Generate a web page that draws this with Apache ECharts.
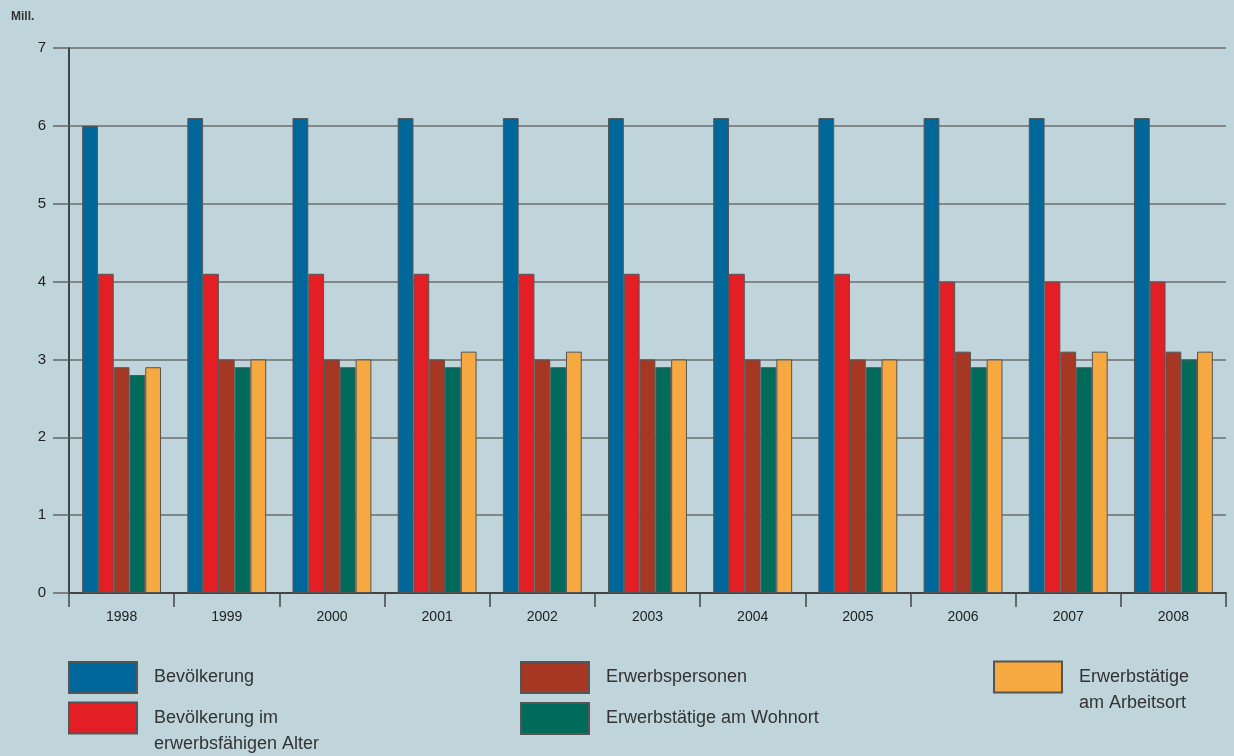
<!DOCTYPE html>
<html>
<head>
<meta charset="utf-8">
<script src="https://cdn.jsdelivr.net/npm/echarts@6/dist/echarts.min.js"></script>
<style>
  html, body { margin: 0; padding: 0; background: #bfd4db; }
  #chart { width: 1234px; height: 756px; }
</style>
</head>
<body>
<div id="chart"></div>
<script>
// Jahre
const years = ['1998', '1999', '2000', '2001', '2002', '2003', '2004', '2005', '2006', '2007', '2008'];

// Werte in Millionen
const bevoelkerung       = [6.0, 6.1, 6.1, 6.1, 6.1, 6.1, 6.1, 6.1, 6.1, 6.1, 6.1];
const erwerbsfaehigAlter = [4.1, 4.1, 4.1, 4.1, 4.1, 4.1, 4.1, 4.1, 4.0, 4.0, 4.0];
const erwerbspersonen    = [2.9, 3.0, 3.0, 3.0, 3.0, 3.0, 3.0, 3.0, 3.1, 3.1, 3.1];
const etWohnort          = [2.8, 2.9, 2.9, 2.9, 2.9, 2.9, 2.9, 2.9, 2.9, 2.9, 3.0];
const etArbeitsort       = [2.9, 3.0, 3.0, 3.1, 3.1, 3.0, 3.0, 3.0, 3.0, 3.1, 3.1];

const seriesNames = [
  'Bevölkerung',
  'Bevölkerung im\nerwerbsfähigen Alter',
  'Erwerbspersonen',
  'Erwerbstätige am Wohnort',
  'Erwerbstätige\nam Arbeitsort'
];
const seriesData = [bevoelkerung, erwerbsfaehigAlter, erwerbspersonen, etWohnort, etArbeitsort];
const colors = ['#00679a', '#e31e24', '#a63823', '#006b5b', '#f7a941'];

const FONT = 'Liberation Sans, Arial, sans-serif';

const chart = echarts.init(document.getElementById('chart'));

const series = seriesNames.map((name, i) => ({
  name: name,
  type: 'bar',
  data: seriesData[i],
  barGap: '0%',
  barCategoryGap: '25%',
  itemStyle: { color: colors[i], borderColor: '#555', borderWidth: 1 },
  emphasis: { disabled: true }
}));

// Legend placement: one component per entry. Two-line entries get an empty
// leading line so their first line stays level with the colour box.
const legendPos = [
  { left: 68,  top: 661, multi: false },
  { left: 68,  top: 679, multi: true },
  { left: 520, top: 661, multi: false },
  { left: 520, top: 702, multi: false },
  { left: 993, top: 638, multi: true }
];

const legends = seriesNames.map((name, i) => ({
  data: [name],
  left: legendPos[i].left,
  top: legendPos[i].top,
  padding: 0,
  itemWidth: 68,
  itemHeight: 31,
  itemGap: 0,
  selectedMode: false,
  icon: 'rect',
  formatter: legendPos[i].multi ? (n) => ' \n' + n : (n) => n,
  textStyle: {
    fontFamily: FONT,
    fontSize: 18,
    color: '#333',
    lineHeight: 26,
    padding: [0, 0, 0, 12]
  }
}));

chart.setOption({
  backgroundColor: '#bfd4db',
  animation: false,
  color: colors,
  grid: { left: 69, right: 8, top: 48, bottom: 163, containLabel: false },
  legend: legends,
  graphic: [{
    type: 'text',
    left: 11,
    top: 11,
    style: { text: 'Mill.', font: 'bold 12px ' + FONT, fill: '#333' }
  }],
  xAxis: {
    type: 'category',
    data: years,
    boundaryGap: true,
    axisLine: { lineStyle: { color: '#444', width: 2 } },
    axisTick: { show: true, interval: 0, length: 14, lineStyle: { color: '#444', width: 1.5 } },
    axisLabel: { interval: 0, margin: 17, fontFamily: FONT, fontSize: 14, color: '#222' }
  },
  yAxis: {
    type: 'value',
    min: 0,
    max: 7,
    interval: 1,
    axisLine: { show: true, lineStyle: { color: '#444', width: 2 } },
    axisTick: { show: true, length: 16, lineStyle: { color: '#666', width: 1.5 } },
    axisLabel: { margin: 23, fontFamily: FONT, fontSize: 15, color: '#222' },
    splitLine: { show: true, lineStyle: { color: '#6e6e6e', width: 1.5 } }
  },
  series: series
});
</script>
</body>
</html>
